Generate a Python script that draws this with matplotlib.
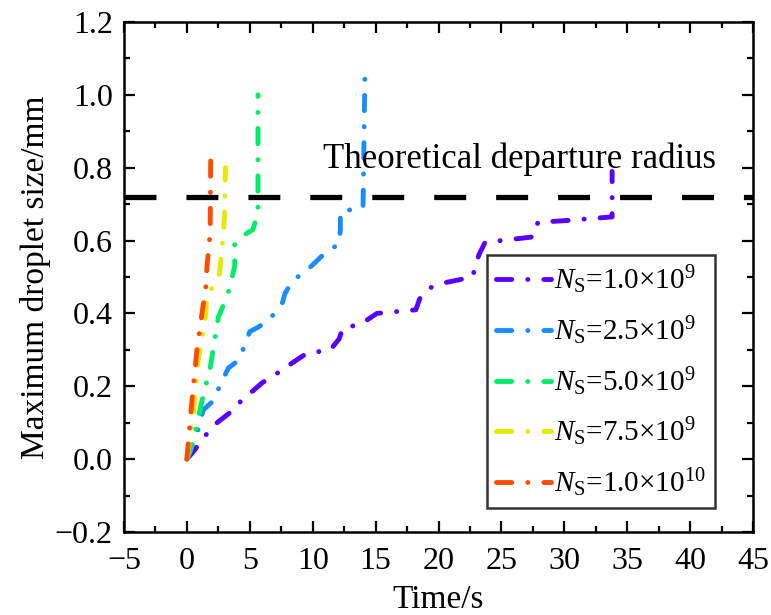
import matplotlib
matplotlib.use('Agg')
import matplotlib.pyplot as plt
from matplotlib.ticker import MultipleLocator

plt.rcParams['font.family'] = ['Liberation Serif', 'DejaVu Serif']
plt.rcParams['mathtext.fontset'] = 'custom'
plt.rcParams['mathtext.rm'] = 'Liberation Serif'
plt.rcParams['mathtext.it'] = 'Liberation Serif:italic'
plt.rcParams['lines.scale_dashes'] = False
plt.rcParams['axes.unicode_minus'] = True

# droplet growth curves, time (s) vs maximum droplet size (mm)
t_1e9 = [0, 0.5, 1.6, 2.4, 3.7, 4.0, 6.0, 7.6, 8.2, 9.5, 11.4, 12.1, 12.4, 13.8, 15.1,
         18.2, 18.5, 19.3, 20.6, 22.7, 23.2, 23.7, 27.5, 27.9, 30.2, 33.8, 33.8]
d_1e9 = [0, 0.02, 0.07, 0.10, 0.135, 0.15, 0.21, 0.245, 0.26, 0.29, 0.30, 0.33, 0.36, 0.37, 0.40,
         0.41, 0.44, 0.47, 0.485, 0.50, 0.56, 0.595, 0.61, 0.65, 0.655, 0.665, 0.79]

t_25e9 = [0, 0.8, 1.3, 2.1, 2.6, 3.3, 4.05, 4.45, 5.0, 5.55, 6.5, 7.6, 7.8, 8.4, 9.2, 9.9,
          11.1, 12.1, 12.2, 12.2, 14.0, 14.15]
d_25e9 = [0, 0.07, 0.135, 0.16, 0.20, 0.25, 0.27, 0.30, 0.35, 0.36, 0.38, 0.43, 0.455, 0.49, 0.51, 0.53,
          0.57, 0.59, 0.63, 0.68, 0.69, 1.055]

t_5e9 = [0, 0.25, 0.7, 1.2, 1.85, 2.5, 3.0, 3.4, 3.8, 3.8, 4.3, 5.25, 5.5, 5.65, 5.65]
d_5e9 = [0, 0.02, 0.08, 0.16, 0.25, 0.39, 0.43, 0.47, 0.53, 0.59, 0.61, 0.63, 0.66, 0.68, 1.00]

t_75e9 = [0, 0.5, 0.9, 1.45, 1.6, 2.0, 2.6, 2.9, 3.0, 3.07]
d_75e9 = [0, 0.12, 0.27, 0.38, 0.45, 0.47, 0.51, 0.62, 0.675, 0.80]

t_1e10 = [0, 0.4, 0.8, 1.2, 1.5, 1.6, 1.85, 1.9]
d_1e10 = [0, 0.16, 0.30, 0.40, 0.47, 0.53, 0.62, 0.86]

series_t = [t_1e9, t_25e9, t_5e9, t_75e9, t_1e10]
series_d = [d_1e9, d_25e9, d_5e9, d_75e9, d_1e10]
labels = [r'$N_{\mathrm{S}}$=1.0×10$^{9}$', r'$N_{\mathrm{S}}$=2.5×10$^{9}$',
          r'$N_{\mathrm{S}}$=5.0×10$^{9}$', r'$N_{\mathrm{S}}$=7.5×10$^{9}$',
          r'$N_{\mathrm{S}}$=1.0×10$^{10}$']
colors = ['#5A00FF', '#1A8CFF', '#00EE66', '#E8E800', '#FF4A00']

departure_radius = 0.72

fig = plt.figure(figsize=(7.71, 6.15), dpi=100)
ax = fig.add_axes([0.1608, 0.135, 0.8159, 0.8292])

for t, d, c, lab in zip(series_t, series_d, colors, labels):
    ax.plot(t, d, color=c, lw=3.5, linestyle=(0, (11, 11.5, 0.1, 11.5)),
            dash_capstyle='round', solid_capstyle='round', label=lab)

ax.axhline(departure_radius, color='black', lw=3.8, linestyle=(0, (23, 21.6)))
ax.text(10.8, 0.80, 'Theoretical departure radius', fontsize=25, va='baseline')

ax.set_xlim(-5, 45)
ax.set_ylim(-0.2, 1.2)
ax.xaxis.set_major_locator(MultipleLocator(5))
ax.xaxis.set_minor_locator(MultipleLocator(2.5))
ax.yaxis.set_major_locator(MultipleLocator(0.2))
ax.yaxis.set_minor_locator(MultipleLocator(0.1))
ax.tick_params(which='both', direction='in', top=True, right=True, width=1.6, labelsize=23)
ax.tick_params(which='major', length=8, pad=8)
ax.tick_params(axis='x', which='major', pad=11)
ax.tick_params(which='minor', length=4.5)
for s in ax.spines.values():
    s.set_linewidth(1.8)

ax.set_xlabel('Time/s', fontsize=24, labelpad=6)
ax.set_ylabel('Maximum droplet size/mm', fontsize=24, labelpad=3)

leg = ax.legend(loc='lower left', bbox_to_anchor=(0.577, 0.047), borderaxespad=0,
                fontsize=21, frameon=True, fancybox=False, edgecolor='black',
                handlelength=1.9, handletextpad=0.1, labelspacing=0.62, borderpad=0.3)
leg.get_frame().set_linewidth(1.8)

fig.savefig('out.png', dpi=100)
